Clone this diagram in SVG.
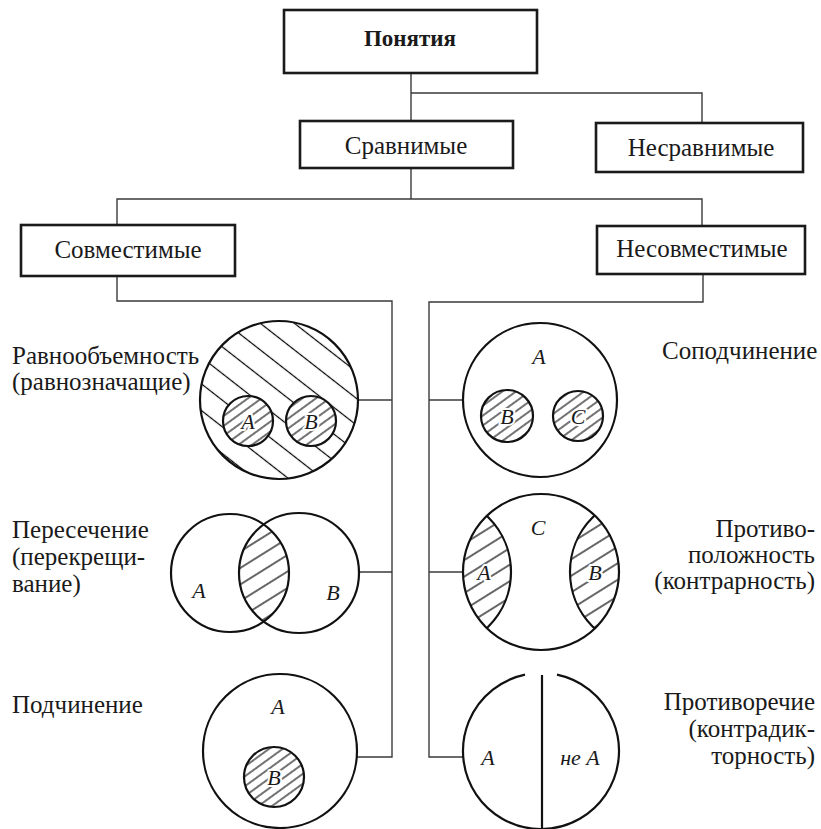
<svg xmlns="http://www.w3.org/2000/svg" width="821" height="829" viewBox="0 0 821 829">
<style>
.box{fill:#fff;stroke:#1a1a1a;stroke-width:2.6}
.lbl{font-size:25px;fill:#1a1a1a}
.bold{font-weight:bold;font-size:23px}
.it{font-style:italic;font-size:22px;fill:#1a1a1a;paint-order:stroke;stroke:#fff;stroke-width:4px;stroke-linejoin:round}
.conn{fill:none;stroke:#3a3a3a;stroke-width:1.4}
.c{fill:none;stroke:#111;stroke-width:2.2}
.w{fill:#fff}
</style>
<defs>
<pattern id="hBig" width="10" height="21" patternUnits="userSpaceOnUse" patternTransform="rotate(38)">
<path d="M0 10.5H10" stroke="#000" stroke-width="1.2"/>
</pattern>
<pattern id="hSmall" width="10" height="8" patternUnits="userSpaceOnUse" patternTransform="rotate(-36)">
<path d="M0 4H10" stroke="#000" stroke-width="1.1"/>
</pattern>
<pattern id="hMid" width="10" height="14" patternUnits="userSpaceOnUse" patternTransform="rotate(-32)">
<path d="M0 7H10" stroke="#000" stroke-width="1.2"/>
</pattern>
<clipPath id="vennL"><circle cx="230" cy="573" r="59"/></clipPath>
<clipPath id="mainC"><circle cx="541" cy="572" r="78"/></clipPath>
</defs>

<g id="connectors">
<path class="conn" d="M411 73V121"/>
<path class="conn" d="M411 93H702V123"/>
<path class="conn" d="M411 168V199"/>
<path class="conn" d="M117 225V199H702V226"/>
<path class="conn" d="M117 276V301H392V757H357"/>
<path class="conn" d="M392 400H358"/>
<path class="conn" d="M392 572H359"/>
<path class="conn" d="M703 274V302H429V757H463"/>
<path class="conn" d="M429 400H463"/>
<path class="conn" d="M429 572H463"/>
</g>

<g font-family="'Liberation Serif', 'Times New Roman', serif">
<g id="node-ponyatiya">
<rect class="box" x="284" y="10" width="253" height="63"/>
<text class="lbl bold" x="410" y="46" text-anchor="middle">Понятия</text>
</g>
<g id="node-sravnimye">
<rect class="box" x="300" y="121" width="213" height="47"/>
<text class="lbl" x="406" y="154" text-anchor="middle">Сравнимые</text>
</g>
<g id="node-nesravnimye">
<rect class="box" x="596" y="123" width="207" height="49"/>
<text class="lbl" x="701" y="156" text-anchor="middle">Несравнимые</text>
</g>
<g id="node-sovmestimye">
<rect class="box" x="21" y="225" width="214" height="51"/>
<text class="lbl" x="128" y="258" text-anchor="middle">Совместимые</text>
</g>
<g id="node-nesovmestimye">
<rect class="box" x="597" y="226" width="208" height="48"/>
<text class="lbl" x="702" y="257" text-anchor="middle">Несовместимые</text>
</g>

<g id="node-ravnoobemnost">
<text class="lbl" x="12" y="364">Равнообъемность</text>
<text class="lbl" x="12" y="390">(равнозначащие)</text>
<circle cx="279" cy="400" r="79" fill="url(#hBig)"/>
<circle class="w" cx="248" cy="421" r="25"/>
<circle class="w" cx="311" cy="421" r="25"/>
<circle cx="248" cy="421" r="25" fill="url(#hSmall)"/>
<circle cx="311" cy="421" r="25" fill="url(#hSmall)"/>
<circle class="c" cx="279" cy="400" r="79"/>
<circle class="c" cx="248" cy="421" r="25"/>
<circle class="c" cx="311" cy="421" r="25"/>
<text class="it" x="248" y="429" text-anchor="middle">A</text>
<text class="it" x="311" y="429" text-anchor="middle">B</text>
</g>

<g id="node-peresechenie">
<text class="lbl" x="12" y="538">Пересечение</text>
<text class="lbl" x="12" y="565">(перекрещи-</text>
<text class="lbl" x="12" y="592">вание)</text>
<circle cx="299" cy="573" r="60" fill="url(#hMid)" clip-path="url(#vennL)"/>
<circle class="c" cx="230" cy="573" r="59"/>
<circle class="c" cx="299" cy="573" r="60"/>
<text class="it" x="199" y="598" text-anchor="middle">A</text>
<text class="it" x="333" y="600" text-anchor="middle">B</text>
</g>

<g id="node-podchinenie">
<text class="lbl" x="12" y="713">Подчинение</text>
<circle class="c" cx="280" cy="751" r="77"/>
<circle cx="274" cy="777" r="30" fill="url(#hSmall)"/>
<circle class="c" cx="274" cy="777" r="30"/>
<text class="it" x="278" y="714" text-anchor="middle">A</text>
<text class="it" x="274" y="785" text-anchor="middle">B</text>
</g>

<g id="node-sopodchinenie">
<text class="lbl" x="662" y="359">Соподчинение</text>
<circle class="c" cx="540" cy="400" r="77"/>
<circle cx="507" cy="416" r="26" fill="url(#hSmall)"/>
<circle cx="578" cy="416" r="25" fill="url(#hSmall)"/>
<circle class="c" cx="507" cy="416" r="26"/>
<circle class="c" cx="578" cy="416" r="25"/>
<text class="it" x="539" y="364" text-anchor="middle">A</text>
<text class="it" x="507" y="424" text-anchor="middle">B</text>
<text class="it" x="578" y="424" text-anchor="middle">C</text>
</g>

<g id="node-protivopolozhnost">
<text class="lbl" x="815" y="537" text-anchor="end">Противо-</text>
<text class="lbl" x="815" y="563" text-anchor="end">положность</text>
<text class="lbl" x="815" y="589" text-anchor="end">(контрарность)</text>
<g clip-path="url(#mainC)">
<circle cx="434" cy="572" r="77" fill="url(#hMid)"/>
<circle cx="647" cy="572" r="77" fill="url(#hMid)"/>
<circle class="c" cx="434" cy="572" r="77"/>
<circle class="c" cx="647" cy="572" r="77"/>
</g>
<circle class="c" cx="541" cy="572" r="78"/>
<text class="it" x="538" y="535" text-anchor="middle">C</text>
<text class="it" x="484" y="580" text-anchor="middle">A</text>
<text class="it" x="595" y="580" text-anchor="middle">B</text>
</g>

<g id="node-protivorechie">
<text class="lbl" x="815" y="710" text-anchor="end">Противоречие</text>
<text class="lbl" x="815" y="737" text-anchor="end">(контрадик-</text>
<text class="lbl" x="815" y="764" text-anchor="end">торность)</text>
<path class="c" d="M557 674.7A78 78 0 1 1 525 674.7"/>
<path class="c" d="M542 675V829"/>
<text class="it" x="488" y="765" text-anchor="middle">A</text>
<text class="it" x="580" y="765" text-anchor="middle">не A</text>
</g>
</g>
</svg>
